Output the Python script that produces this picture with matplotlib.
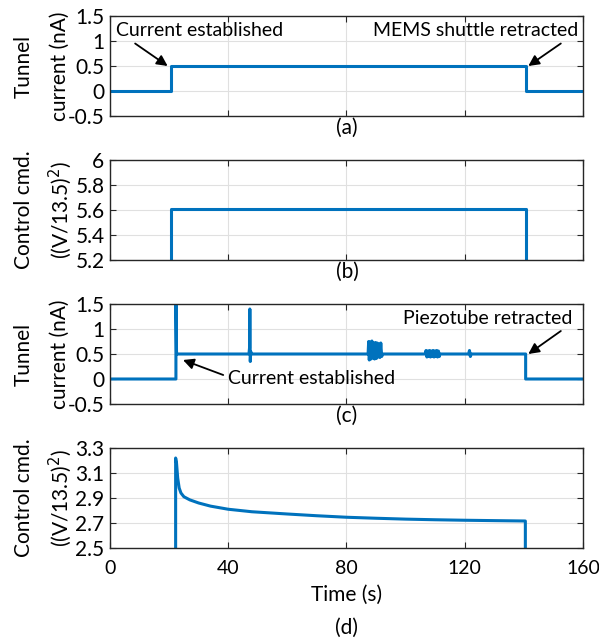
import matplotlib.pyplot as plt

plt.rcParams['font.family'] = ['Lato', 'DejaVu Sans']

# (a) MEMS shuttle run
t_a = [0, 20.5, 20.5, 140.8, 140.8, 160]
i_a = [0, 0, 0.5, 0.5, 0, 0]

# (b) control command during MEMS run
t_b = [20.5, 20.5, 140.8, 140.8]
u_b = [5.0, 5.61, 5.61, 5.0]

# (c) piezotube run, with spikes and noise bursts
t_c = [0, 22.3, 22.3, 22.5, 22.6, 47.0, 47.2, 47.3, 47.45, 47.6, 47.8,
       87.3, 87.5, 87.7, 88.0, 88.3, 88.6, 88.9, 89.2, 89.5, 89.8, 90.1, 90.4,
       90.7, 91.0, 91.3, 91.6, 91.9, 92.2,
       106.6, 106.9, 107.2, 107.5, 107.8, 108.1, 108.4, 108.7, 109.0, 109.3,
       109.6, 109.9, 110.2, 110.5, 110.8, 111.1, 111.4, 111.6,
       121.3, 121.6, 121.9, 122.2,
       140.6, 140.6, 160]
i_c = [0, 0, 1.6, 0.55, 0.5, 0.5, 0.62, 1.4, 0.35, 0.55, 0.5,
       0.5, 0.75, 0.38, 0.74, 0.4, 0.76, 0.42, 0.72, 0.4, 0.73, 0.41, 0.72,
       0.44, 0.7, 0.43, 0.72, 0.45, 0.5,
       0.5, 0.57, 0.44, 0.56, 0.45, 0.57, 0.44, 0.56, 0.45, 0.57,
       0.44, 0.56, 0.45, 0.57, 0.44, 0.56, 0.45, 0.5,
       0.5, 0.57, 0.45, 0.5,
       0.5, 0, 0]

# (d) control command during piezotube run
t_d = [22.2, 22.2, 22.5, 22.9, 23.4, 24.0, 25.0, 27.0, 30.0, 34.0, 40.0, 48.0,
       60.0, 70.0, 80.0, 90.0, 100.0, 110.0, 120.0, 130.0, 140.5, 140.5]
u_d = [2.4, 3.22, 3.18, 3.06, 2.98, 2.94, 2.91, 2.885, 2.86, 2.835, 2.81, 2.79,
       2.772, 2.758, 2.746, 2.738, 2.731, 2.726, 2.722, 2.719, 2.716, 2.4]

xticks = [0, 40, 80, 120, 160]
blue = '#0072BD'

W, H = 599, 643
fig = plt.figure(figsize=(W / 100, H / 100), dpi=100)


def make_ax(top_px, ylim, yticks, yticklabels, ylabel):
    ax = fig.add_axes([110 / W, 1 - (top_px + 100) / H, 473 / W, 100 / H])
    ax.set_xlim(0, 160)
    ax.set_ylim(*ylim)
    ax.set_xticks(xticks)
    ax.set_yticks(yticks)
    ax.set_yticklabels(yticklabels)
    ax.grid(True, color='#e0e0e0', linewidth=0.8)
    ax.set_axisbelow(True)
    ax.tick_params(direction='in', top=True, right=True, length=4,
                   labelsize=15, color='#262626', pad=4)
    for s in ax.spines.values():
        s.set_color('#262626')
        s.set_linewidth(1.0)
    # two-line y label, placed by hand like the original
    yc = 1 - (top_px + 50) / H
    fig.text(24 / W, yc, ylabel[0], rotation=90, fontsize=15,
             ha='center', va='center')
    fig.text(60 / W, yc, ylabel[1], rotation=90, fontsize=15,
             ha='center', va='center')
    return ax


ax_a = make_ax(16, (-0.5, 1.5), [-0.5, 0, 0.5, 1, 1.5],
               ['-0.5', '0', '0.5', '1', '1.5'], ['Tunnel', 'current (nA)'])
ax_a.plot(t_a, i_a, color=blue, lw=2.2)
ax_a.set_xticklabels([])

ax_b = make_ax(160, (5.2, 6.0), [5.2, 5.4, 5.6, 5.8, 6.0],
               ['5.2', '5.4', '5.6', '5.8', '6'],
               ['Control cmd.', '((V/13.5)$^2$)'])
ax_b.plot(t_b, u_b, color=blue, lw=2.2)
ax_b.set_xticklabels([])

ax_c = make_ax(304, (-0.5, 1.5), [-0.5, 0, 0.5, 1, 1.5],
               ['-0.5', '0', '0.5', '1', '1.5'], ['Tunnel', 'current (nA)'])
ax_c.plot(t_c, i_c, color=blue, lw=2.2)
ax_c.set_xticklabels([])

ax_d = make_ax(448, (2.5, 3.3), [2.5, 2.7, 2.9, 3.1, 3.3],
               ['2.5', '2.7', '2.9', '3.1', '3.3'],
               ['Control cmd.', '((V/13.5)$^2$)'])
ax_d.plot(t_d, u_d, color=blue, lw=2.2)
ax_d.set_xticklabels([str(x) for x in xticks])
ax_d.tick_params(axis='x', pad=9, labelsize=14)

arrow = dict(arrowstyle='-|>', color='black', lw=1.3, mutation_scale=16,
             shrinkA=0, shrinkB=0)

ax_a.annotate('Current established', xy=(19.5, 0.5), xytext=(2, 1.22),
              fontsize=14, ha='left', va='center')
ax_a.annotate('', xy=(19.5, 0.5), xytext=(8.5, 0.95), arrowprops=arrow)
ax_a.annotate('MEMS shuttle retracted', xy=(141.5, 0.5), xytext=(158.5, 1.22),
              fontsize=14, ha='right', va='center')
ax_a.annotate('', xy=(141.5, 0.5), xytext=(152.5, 0.95), arrowprops=arrow)

ax_c.annotate('Current established', xy=(24.7, 0.38), xytext=(40, 0.0),
              fontsize=14, ha='left', va='center')
ax_c.annotate('', xy=(24.7, 0.38), xytext=(38.3, 0.08), arrowprops=arrow)
ax_c.annotate('Piezotube retracted', xy=(141.5, 0.5), xytext=(156.5, 1.2),
              fontsize=14, ha='right', va='center')
ax_c.annotate('', xy=(141.5, 0.5), xytext=(152.5, 0.96), arrowprops=arrow)

fig.text(347 / W, 1 - 595 / H, 'Time (s)', fontsize=15, ha='center', va='center')
for label, y in (('(a)', 128), ('(b)', 272), ('(c)', 416), ('(d)', 628)):
    fig.text(347 / W, 1 - y / H, label, fontsize=15, ha='center', va='center')

fig.savefig('out.png', dpi=100)
